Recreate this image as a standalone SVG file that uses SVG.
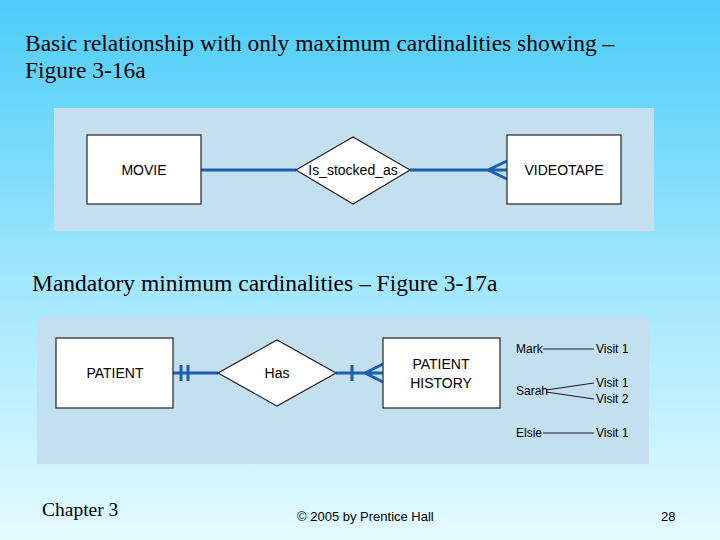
<svg xmlns="http://www.w3.org/2000/svg" width="720" height="540" viewBox="0 0 720 540">
<defs>
<linearGradient id="bg" x1="0" y1="0" x2="0" y2="1">
<stop offset="0" stop-color="#4cccf8"/><stop offset="0.5" stop-color="#9ee6fd"/><stop offset="1" stop-color="#e4fbff"/>
</linearGradient>
</defs>
<style>
.t{font-family:"Liberation Serif",serif;font-size:23.5px;fill:#000}
.n{font-family:"Liberation Sans",Arial,sans-serif;font-size:14px;fill:#000;text-anchor:middle}
.s{font-family:"Liberation Sans",Arial,sans-serif;font-size:12px;fill:#000}
.box{fill:#fff;stroke:#222;stroke-width:1.2}
.ln{stroke:#1a5fb0;stroke-width:3;fill:none}
.thin{stroke:#222;stroke-width:1.2;fill:none}
.panel{fill:#c3dff0}
</style>
<rect width="720" height="540" fill="url(#bg)"/>
<text class="t" x="25" y="51">Basic relationship with only maximum cardinalities showing –</text>
<text class="t" x="25" y="78">Figure 3-16a</text>
<rect class="panel" x="54" y="108" width="600" height="123"/>
<text class="t" x="32" y="291">Mandatory minimum cardinalities – Figure 3-17a</text>
<rect class="panel" x="37" y="317" width="612" height="147"/>
<g id="connectors">
<path class="ln" d="M201 170H296M410 170H507M488 170L507 161M488 170L507 179"/>
<path class="ln" d="M173 373H218M336 373H383M181 365V381M188 365V381M352 365V381M365 373L383 364M365 373L383 382"/>
<path class="thin" d="M543 349H594M546 390L594 383M546 392L594 399M543 433H594"/>
</g>
<g id="movie"><rect class="box" x="87" y="135" width="114" height="69"/><text class="n" x="144" y="175">MOVIE</text></g>
<g id="is_stocked_as"><polygon class="box" points="296,170 353,137 410,170 353,204"/><text class="n" x="353" y="175">Is_stocked_as</text></g>
<g id="videotape"><rect class="box" x="507" y="135" width="114" height="69"/><text class="n" x="564" y="175">VIDEOTAPE</text></g>
<g id="patient"><rect class="box" x="56" y="338" width="117" height="70"/><text class="n" x="115" y="378">PATIENT</text></g>
<g id="has"><polygon class="box" points="218,373 277,340 336,373 277,406"/><text class="n" x="277" y="378">Has</text></g>
<g id="patient_history"><rect class="box" x="383" y="338" width="117" height="70"/><text class="n" x="441" y="369">PATIENT</text><text class="n" x="441" y="388">HISTORY</text></g>
<g id="examples">
<text class="s" x="516" y="353">Mark</text><text class="s" x="596" y="353">Visit 1</text>
<text class="s" x="516" y="395">Sarah</text><text class="s" x="596" y="387">Visit 1</text><text class="s" x="596" y="403">Visit 2</text>
<text class="s" x="516" y="437">Elsie</text><text class="s" x="596" y="437">Visit 1</text>
</g>
<text class="t" x="42" y="516" style="font-size:19.5px">Chapter 3</text>
<text class="s" x="297" y="521" style="font-size:13px">© 2005 by Prentice Hall</text>
<text class="s" x="661" y="521" style="font-size:13px">28</text>
</svg>
